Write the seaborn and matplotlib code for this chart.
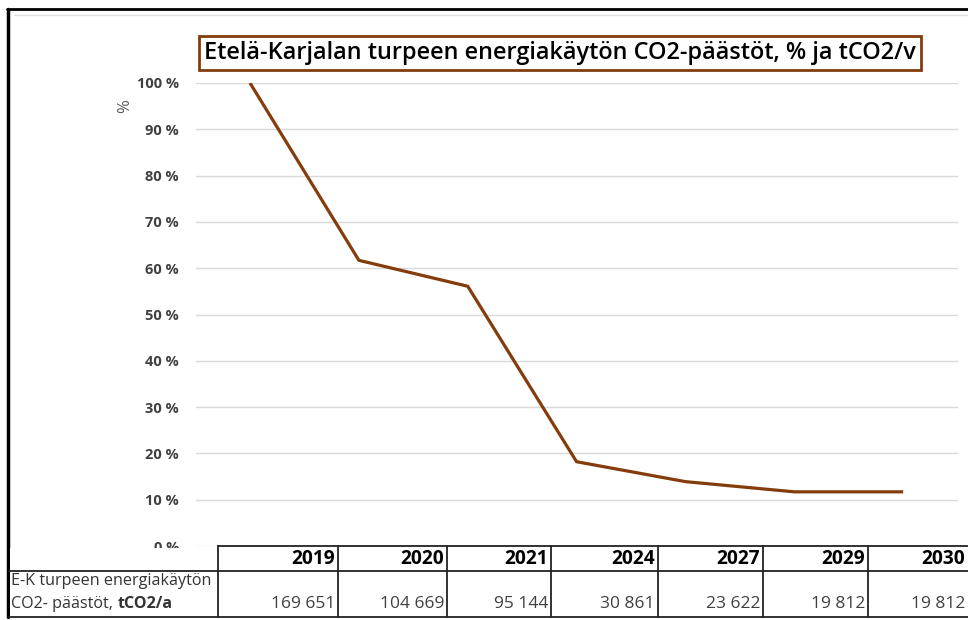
import matplotlib
matplotlib.use("Agg")
import matplotlib.pyplot as plt
import seaborn as sns
import pandas as pd
from matplotlib.lines import Line2D
from matplotlib.patches import Rectangle

# data
years = ["2019", "2020", "2021", "2024", "2027", "2029", "2030"]
share_pct = [100, 61.7, 56.1, 18.2, 13.9, 11.7, 11.7]
emissions_t = [169651, 104669, 95144, 30861, 23622, 19812, 19812]
y_ticks = list(range(0, 101, 10))

title = "Etelä-Karjalan turpeen energiakäytön CO2-päästöt, % ja tCO2/v"
row_label_1 = "E-K turpeen energiakäytön"
row_label_2 = "CO2- päästöt, "
row_label_bold = "tCO2/a"

BROWN = "#843C0C"
TXT = "#404040"
W, H = 968, 620


def fx(px):
    return px / W


def fy(py):
    return 1 - py / H


sns.set_style("white")
plt.rcParams["font.family"] = ["Open Sans", "DejaVu Sans"]

fig = plt.figure(figsize=(W / 100, H / 100), dpi=100)
ax = fig.add_axes([fx(195.6), fy(546), (957.6 - 195.6) / W, (546 - 83) / H])

df = pd.DataFrame({"year": years, "pct": share_pct})
sns.lineplot(data=df, x="year", y="pct", ax=ax, color=BROWN, linewidth=2.3,
             sort=False, solid_capstyle="butt", zorder=3)

ax.set_xlim(-0.5, len(years) - 0.5)
ax.set_ylim(0, 100)
ax.set_yticks(y_ticks)
ax.set_yticklabels([f"{t} %" for t in y_ticks], fontsize=10.5, fontweight="bold", color=TXT)
ax.tick_params(axis="y", length=0, pad=12)
ax.set_xticks([])
ax.set_xlabel("")
ax.set_ylabel("")
ax.grid(axis="y", color="#D9D9D9", linewidth=1)
for s in ax.spines.values():
    s.set_visible(False)

fig.text(fx(125), fy(106), "%", rotation=90, fontsize=12, color="#595959",
         ha="center", va="center")

# title in a framed box
fig.text(fx(560), fy(53), title, fontsize=16.9, fontweight="semibold", color="black",
         ha="center", va="center",
         bbox=dict(boxstyle="square,pad=0.2", facecolor="white", edgecolor=BROWN, linewidth=2))

# outer frame
fig.add_artist(Line2D([fx(7), 1], [fy(9), fy(9)], color="black", lw=2))
fig.add_artist(Line2D([fx(8), fx(8)], [fy(9), fy(617)], color="black", lw=2.5))
fig.add_artist(Line2D([fx(14), 1], [fy(15), fy(15)], color="#E0E0E0", lw=1))

# data table under the chart
fig.add_artist(Rectangle((fx(10), fy(619)), 1, (619 - 548) / H, transform=fig.transFigure,
                         facecolor="white", edgecolor="none", zorder=5))
cols = [218, 338, 447, 551, 658, 763, 868, 968]
lk = dict(color="#222222", lw=1.3, zorder=6)
fig.add_artist(Line2D([fx(218), 1], [fy(546), fy(546)], **lk))
fig.add_artist(Line2D([fx(9), 1], [fy(571), fy(571)], **lk))
fig.add_artist(Line2D([fx(9), 1], [fy(617), fy(617)], **lk))
for c in cols[:-1]:
    fig.add_artist(Line2D([fx(c), fx(c)], [fy(546), fy(617)], **lk))

for i, (yr, val) in enumerate(zip(years, emissions_t)):
    right = cols[i + 1] - 3
    fig.text(fx(right), fy(559), yr, fontsize=13.8, fontweight="bold", color="black",
             ha="right", va="center", zorder=7)
    fig.text(fx(right), fy(604), f"{val:,}".replace(",", " "), fontsize=12.5, color=TXT,
             ha="right", va="center", zorder=7)

fig.text(fx(11), fy(581), row_label_1, fontsize=11.6, color="#333333", ha="left",
         va="center", zorder=7)
t2 = fig.text(fx(11), fy(604), row_label_2, fontsize=11.6, color="#333333", ha="left",
              va="center", zorder=7)
fig.canvas.draw()
bb = t2.get_window_extent(renderer=fig.canvas.get_renderer())
fig.text(bb.x1 / W, fy(604), row_label_bold, fontsize=11.6, fontweight="bold",
         color="#333333", ha="left", va="center", zorder=7)

fig.savefig("out.png", dpi=100)
